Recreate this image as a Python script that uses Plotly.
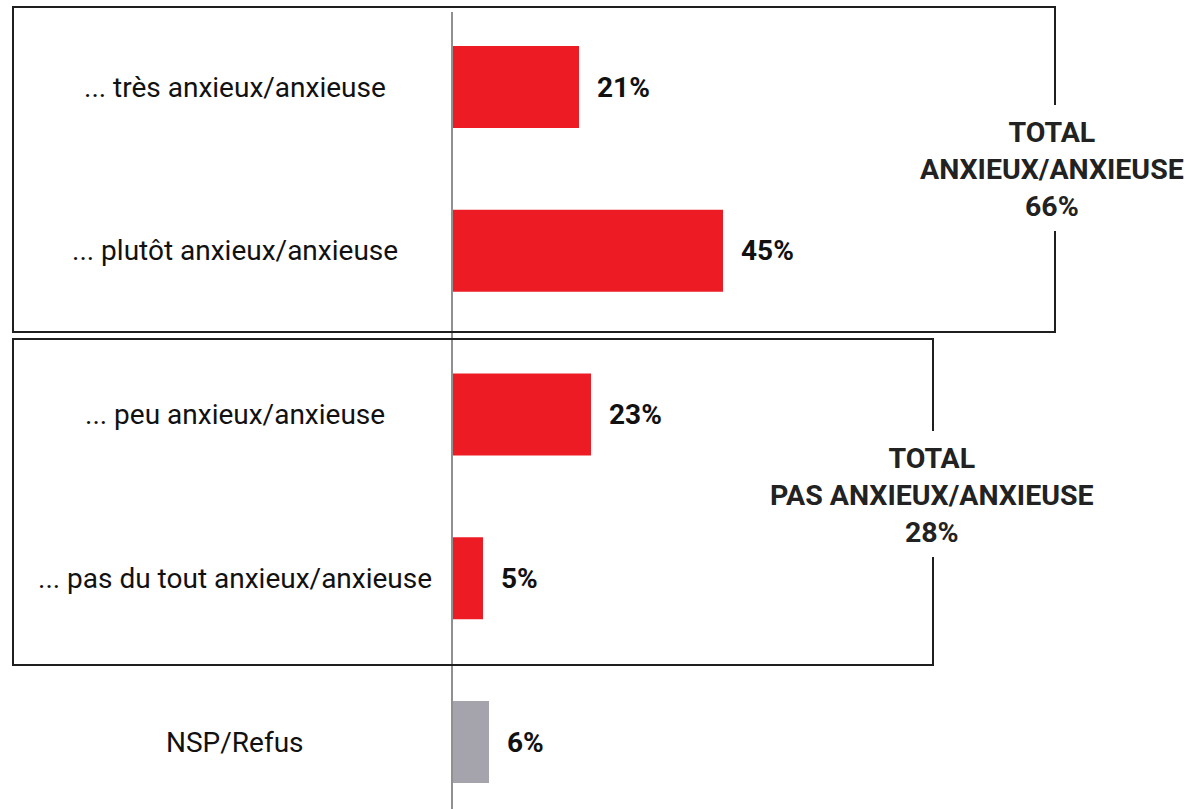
import plotly.graph_objects as go

categories = ["... très anxieux/anxieuse", "... plutôt anxieux/anxieuse",
              "... peu anxieux/anxieuse", "... pas du tout anxieux/anxieuse", "NSP/Refus"]
values = [21, 45, 23, 5, 6]
bar_colors = ["#ED1C24", "#ED1C24", "#ED1C24", "#ED1C24", "#A5A4AC"]
value_labels = ["21%", "45%", "23%", "5%", "6%"]
group_labels = ["TOTAL<br>ANXIEUX/ANXIEUSE<br>66%", "TOTAL<br>PAS ANXIEUX/ANXIEUSE<br>28%"]

W, H = 1192, 809
FONT = "Roboto"
ypos = list(range(len(categories)))

fig = go.Figure(go.Bar(
    x=values, y=ypos, orientation="h", marker=dict(color=bar_colors, line=dict(width=0)),
    width=0.5, hoverinfo="skip",
))

def px(x):
    return x / W

def py(y):
    return 1 - y / H

fig.update_layout(
    width=W, height=H, margin=dict(l=0, r=0, t=0, b=0),
    paper_bgcolor="white", plot_bgcolor="white", showlegend=False,
    xaxis=dict(domain=[453 / W, 1], range=[0, (W - 453) / 6.0], visible=False, fixedrange=True),
    yaxis=dict(range=[4 + 67 / 163.75, -87 / 163.75], visible=False, fixedrange=True),
    font=dict(family=FONT, color="#111111"),
)

# vertical axis line
fig.add_shape(type="line", xref="paper", yref="paper", x0=px(452), x1=px(452),
              y0=py(12), y1=0, line=dict(color="#6b6b6b", width=1.5))

# group boxes (open on the right where the total label sits)
def box(x0, y0, x1, y1, g0, g1):
    path = (f"M {px(x1)},{py(g0)} L {px(x1)},{py(y0)} L {px(x0)},{py(y0)} "
            f"L {px(x0)},{py(y1)} L {px(x1)},{py(y1)} L {px(x1)},{py(g1)}")
    fig.add_shape(type="path", xref="paper", yref="paper", path=path,
                  line=dict(color="#1f1f1f", width=2))

box(13, 7, 1055, 332, 105, 231)
box(13, 339, 933, 665, 431, 557)

for i, cat in enumerate(categories):
    fig.add_annotation(x=px(235), xref="paper", y=i, yref="y", text=cat, showarrow=False,
                       xanchor="center", yanchor="middle", font=dict(size=28, color="#111111"))
    fig.add_annotation(x=values[i], xref="x", y=i, yref="y", text=f"<b>{value_labels[i]}</b>",
                       showarrow=False, xanchor="left", yanchor="middle", xshift=16,
                       font=dict(size=28, color="#111111"))

for (cx, cy), lab in zip([(1052, 169), (932, 495)], group_labels):
    fig.add_annotation(x=px(cx), xref="paper", y=py(cy), yref="paper", text=f"<b>{lab}</b>",
                       showarrow=False, xanchor="center", yanchor="middle", align="center",
                       font=dict(size=28.5, color="#222222"))

fig.write_html("out.html", config={"displayModeBar": False},
               post_script="document.body.style.margin='0';document.body.style.overflow='hidden';")
